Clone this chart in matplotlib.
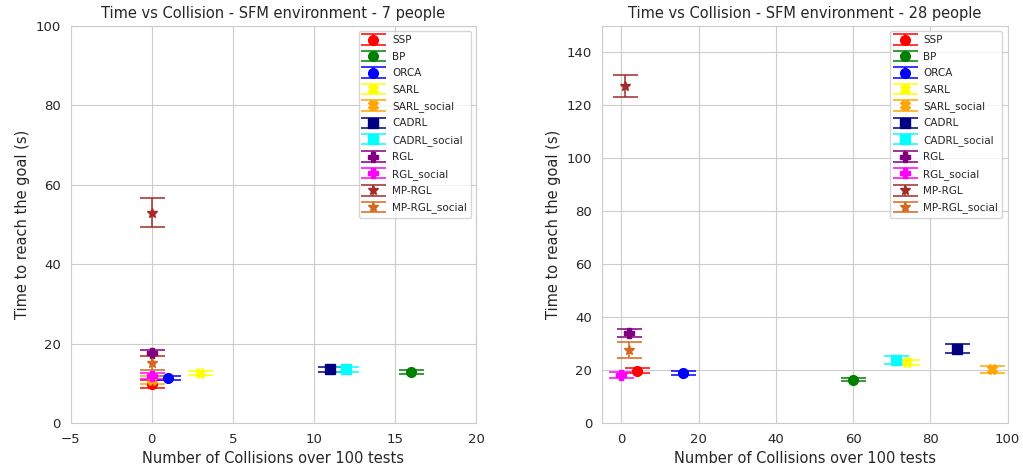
import matplotlib
matplotlib.use("Agg")
import matplotlib.pyplot as plt
import seaborn as sns

sns.set_style("whitegrid")
plt.rcParams['axes.edgecolor'] = '.8'

methods = ['SSP', 'BP', 'ORCA', 'SARL', 'SARL_social', 'CADRL', 'CADRL_social',
           'RGL', 'RGL_social', 'MP-RGL', 'MP-RGL_social']
colors = ['red', 'green', 'blue', 'yellow', 'orange', 'navy', 'cyan',
          'purple', 'magenta', 'brown', 'chocolate']
markers = ['o', 'o', 'o', 'X', 'X', 's', 's', 'P', 'P', '*', '*']

# 7 people
coll_7 = [0, 16, 1, 3, 0, 11, 12, 0, 0, 0, 0]
time_7 = [9.8, 12.8, 11.3, 12.5, 10.9, 13.5, 13.5, 17.6, 11.9, 53.0, 15.1]
err_7 = [1.0, 0.5, 0.5, 0.5, 1.0, 0.6, 0.6, 0.8, 0.8, 3.7, 1.8]

# 28 people
coll_28 = [4, 60, 16, 74, 96, 87, 71, 2, 0, 1, 2]
time_28 = [19.8, 16.4, 18.8, 22.9, 20.2, 28.0, 23.8, 33.9, 18.1, 127.2, 27.6]
err_28 = [0.8, 0.6, 0.8, 1.0, 1.5, 1.7, 1.5, 1.6, 1.0, 4.1, 3.0]

fig, axes = plt.subplots(1, 2, figsize=(10.23, 4.71), dpi=100)

panels = [(axes[0], coll_7, time_7, err_7, 7, (-5, 20), (0, 100)),
          (axes[1], coll_28, time_28, err_28, 28, (-5, 100), (0, 150))]

for ax, xs, ys, es, n, xl, yl in panels:
    for i, m in enumerate(methods):
        ax.errorbar(xs[i], ys[i], yerr=es[i], fmt=markers[i], color=colors[i],
                    ecolor=colors[i], markersize=7, capsize=9, elinewidth=1.1,
                    capthick=1.1, label=m)
    ax.set_xlim(*xl)
    ax.set_ylim(*yl)
    ax.set_title(f'Time vs Collision - SFM environment - {n} people', fontsize=10.5)
    ax.set_xlabel('Number of Collisions over 100 tests', fontsize=10.5)
    ax.set_ylabel('Time to reach the goal (s)', fontsize=10.5)
    ax.tick_params(labelsize=9.5)
    ax.legend(loc='upper right', fontsize=7.5, labelspacing=0.62)

axes[1].set_yticks(range(0, 141, 20))

plt.subplots_adjust(left=0.069, right=0.985, bottom=0.102, top=0.945, wspace=0.31)
plt.savefig('out.png')
